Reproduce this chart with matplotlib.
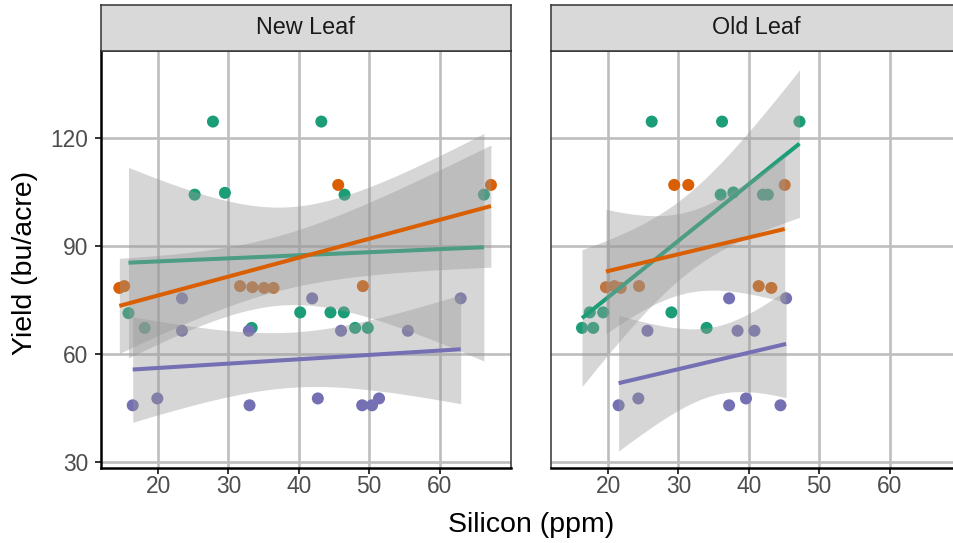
import numpy as np
import matplotlib
matplotlib.use("Agg")
import matplotlib.pyplot as plt
from math import gamma, sqrt, pi

plt.rcParams['font.family'] = ['Liberation Sans', 'DejaVu Sans']

# ---------------- data ----------------
panels = ["New Leaf", "Old Leaf"]
group_colors = ["#1B9E77", "#D95F02", "#7570B3"]

# New Leaf
new_green_x = [27.8, 43.2, 25.2, 29.5, 46.5, 66.3, 15.8, 40.2, 44.5, 46.4, 18.1, 33.3, 48.0, 49.8]
new_green_y = [124.5, 124.5, 104.2, 104.7, 104.2, 104.2, 71.3, 71.5, 71.5, 71.5, 67.2, 67.2, 67.2, 67.2]
new_orange_x = [45.6, 67.3, 14.5, 15.2, 31.65, 33.4, 35.05, 36.4, 49.1]
new_orange_y = [106.9, 106.9, 78.3, 78.8, 78.8, 78.5, 78.3, 78.3, 78.8]
new_purple_x = [23.4, 41.9, 63.0, 23.4, 32.9, 46.0, 55.5, 16.4, 33.0, 49.0, 50.4, 19.9, 42.7, 51.4]
new_purple_y = [75.4, 75.4, 75.4, 66.4, 66.4, 66.4, 66.4, 45.7, 45.7, 45.7, 45.7, 47.6, 47.6, 47.6]

# Old Leaf
old_green_x = [26.2, 36.2, 47.2, 36.0, 37.8, 42.0, 42.7, 17.4, 19.3, 29.0, 16.3, 17.9, 34.0]
old_green_y = [124.5, 124.5, 124.5, 104.2, 104.8, 104.2, 104.2, 71.5, 71.5, 71.5, 67.2, 67.2, 67.2]
old_orange_x = [29.4, 31.4, 45.1, 19.7, 20.9, 21.8, 24.4, 41.4, 43.2]
old_orange_y = [106.9, 106.9, 106.9, 78.5, 78.8, 78.3, 78.8, 78.8, 78.3]
old_purple_x = [37.2, 45.3, 25.6, 38.4, 40.8, 21.5, 37.2, 44.5, 24.3, 39.6]
old_purple_y = [75.4, 75.4, 66.4, 66.4, 66.4, 45.7, 45.7, 45.7, 47.6, 47.6]

panel_data = [
    [(new_green_x, new_green_y), (new_orange_x, new_orange_y), (new_purple_x, new_purple_y)],
    [(old_green_x, old_green_y), (old_orange_x, old_orange_y), (old_purple_x, old_purple_y)],
]

x_ticks = [20, 30, 40, 50, 60]
y_ticks = [30, 60, 90, 120]
x_label = "Silicon (ppm)"
y_label = "Yield (bu/acre)"


def t_ppf(p, df):
    xs = np.linspace(0, 30, 300001)
    c = gamma((df + 1) / 2) / (sqrt(df * pi) * gamma(df / 2))
    pdf = c * (1 + xs ** 2 / df) ** (-(df + 1) / 2)
    cdf = 0.5 + np.concatenate([[0], np.cumsum((pdf[1:] + pdf[:-1]) / 2 * np.diff(xs))])
    return float(np.interp(p, cdf, xs))


def lm_band(x, y, n_out=80):
    x = np.asarray(x, float)
    y = np.asarray(y, float)
    n = len(x)
    b1, b0 = np.polyfit(x, y, 1)
    xs = np.linspace(x.min(), x.max(), n_out)
    fit = b0 + b1 * xs
    resid = y - (b0 + b1 * x)
    s = sqrt(np.sum(resid ** 2) / (n - 2))
    sxx = np.sum((x - x.mean()) ** 2)
    se = s * np.sqrt(1 / n + (xs - x.mean()) ** 2 / sxx)
    t = t_ppf(0.975, n - 2)
    return xs, fit, fit - t * se, fit + t * se


# ---------------- layout ----------------
W, H = 954, 543
fig = plt.figure(figsize=(W / 100, H / 100), dpi=100)


def frac(x0, y0, x1, y1):
    return [x0 / W, 1 - y1 / H, (x1 - x0) / W, (y1 - y0) / H]


panel_px = [(100.7, 51, 511, 468.3), (550.7, 51, 961, 468.3)]
xlim = (11.85, 70.15)
ylim = (28.2, 144.1)

for i, (name, groups) in enumerate(zip(panels, panel_data)):
    x0, y0, x1, y1 = panel_px[i]
    ax = fig.add_axes(frac(x0, y0, x1, y1))
    ax.set_xlim(*xlim)
    ax.set_ylim(*ylim)
    ax.set_xticks(x_ticks)
    ax.set_yticks(y_ticks)
    ax.set_axisbelow(True)
    ax.grid(True, color="#BEBEBE", lw=1.9)

    # points
    for (gx, gy), col in zip(groups, group_colors):
        ax.scatter(gx, gy, s=75, color=col, edgecolors="none", zorder=2)
    # smooths
    z = 3
    for (gx, gy), col in zip(groups, group_colors):
        xs, fit, lo, hi = lm_band(gx, gy)
        ax.fill_between(xs, lo, hi, color="#999999", alpha=0.4, lw=0, zorder=z)
        ax.plot(xs, fit, color=col, lw=2.9, zorder=z + 0.5, solid_capstyle="butt")
        z += 1

    for sp in ["top", "right"]:
        ax.spines[sp].set_color("#333333")
        ax.spines[sp].set_linewidth(1.1)
    ax.spines["bottom"].set_color("black")
    ax.spines["bottom"].set_linewidth(1.8)
    ax.spines["bottom"].set_zorder(10)
    if i == 0:
        ax.spines["left"].set_color("black")
        ax.spines["left"].set_linewidth(1.8)
        ax.tick_params(axis="y", length=4, width=1.4, color="#333333",
                       labelsize=16.4, labelcolor="#4D4D4D", pad=5)
    else:
        ax.spines["left"].set_color("#333333")
        ax.spines["left"].set_linewidth(1.1)
        ax.tick_params(axis="y", left=False, labelleft=False)
    ax.spines["left"].set_zorder(10)
    ax.tick_params(axis="x", length=4, width=1.4, color="#333333",
                   labelsize=16.4, labelcolor="#4D4D4D", pad=1)

    # strip
    sa = fig.add_axes(frac(x0, 5, x1, 51))
    sa.set_facecolor("#D9D9D9")
    sa.set_xticks([])
    sa.set_yticks([])
    for sp in sa.spines.values():
        sp.set_color("#333333")
        sp.set_linewidth(1.1)
    sa.text(0.5, 0.5, name, transform=sa.transAxes, ha="center", va="center",
            fontsize=16.8, color="#1A1A1A")

fig.text(530.8 / W, 1 - 531.7 / H, x_label, ha="center", va="baseline",
         fontsize=20.5, color="black")
fig.text(25 / W, 1 - 263 / H, y_label, ha="center", va="center", rotation=90,
         fontsize=20.5, color="black")

fig.savefig("out.png", dpi=100)
